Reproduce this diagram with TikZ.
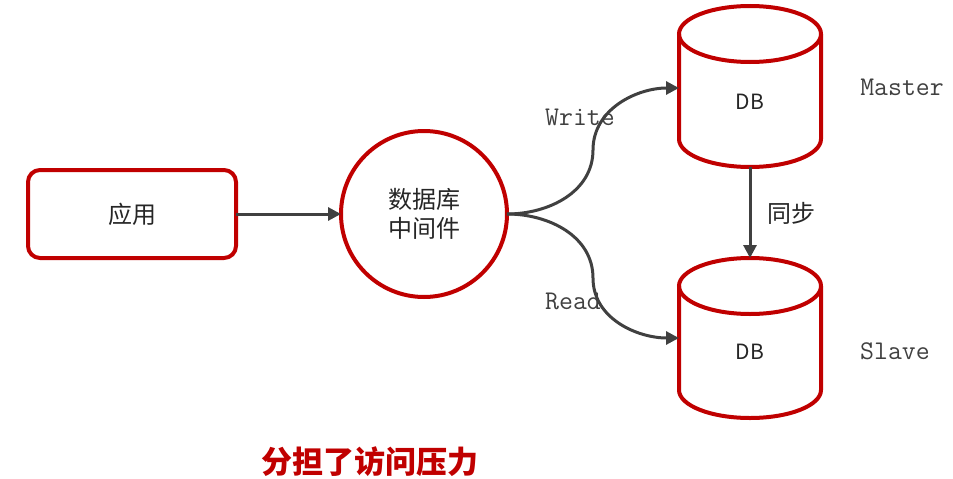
\documentclass[tikz,border=0pt]{standalone}
\usepackage{fontspec}
\setmainfont{Liberation Sans}
\newfontfamily\cjk{Noto Sans CJK SC}
\usetikzlibrary{arrows.meta}
\definecolor{dbred}{HTML}{C00000}
\definecolor{arrgray}{HTML}{404040}
\definecolor{txt}{HTML}{262626}
\begin{document}
\begin{tikzpicture}[x=1pt,y=1pt,
  redline/.style={draw=dbred,line width=4pt},
  conn/.style={draw=arrgray,line width=3pt,-{Triangle[length=13pt,width=13pt]}},
  cjktext/.style={font=\cjk\fontsize{24}{29}\selectfont,text=txt},
  dbtext/.style={font=\cjk\fontsize{21}{25}\selectfont,text=txt},
  monolabel/.style={font=\ttfamily\fontsize{27}{30}\selectfont,text=arrgray},
  dbcyl/.pic={
    \path[redline,fill=white] (-71,0) -- (-71,-#1) arc[start angle=180,end angle=360,x radius=71,y radius=28] -- (71,0);
    \path[redline] (0,0) ellipse[x radius=71,y radius=28];
  }
]
\useasboundingbox (0,0) rectangle (953,-479);
% application box
\node[redline,rounded corners=12pt,minimum width=208pt,minimum height=88pt,cjktext] (app) at (132,-214) {应用};
% middleware circle
\node[redline,circle,minimum size=166pt,inner sep=0pt,align=center,cjktext] (mw) at (424,-214) {数据库\\中间件};
% cylinders
\pic at (750,-34) {dbcyl=105};
\pic at (750,-286) {dbcyl=104};
\node[dbtext] (master) at (750,-102) {DB};
\node[dbtext] (slave) at (750,-352) {DB};
\coordinate (masterW) at (679,-88);
\coordinate (masterB) at (750,-167);
\coordinate (slaveT) at (750,-258);
\coordinate (slaveW) at (679,-338);
\coordinate (wbend) at (593,-150);
\coordinate (rbend) at (593,-278);
\coordinate (mwE) at (507,-214);
\coordinate (appE) at (236,-214);
\coordinate (mwW) at (341,-214);
% connectors
\draw[conn] (appE) -- (mwW);
\draw[conn] (mwE) to[out=0,in=-90] (wbend) to[out=90,in=180] (masterW);
\draw[conn] (mwE) to[out=0,in=90] (rbend) to[out=-90,in=180] (slaveW);
\draw[conn] (masterB) -- (slaveT);
% labels
\node[monolabel] (wlabel) at (580,-117) {Write};
\node[monolabel] (rlabel) at (573,-301) {Read};
\node[monolabel] (mlabel) at (902,-87) {Master};
\node[monolabel] (slabel) at (895,-351) {Slave};
\node[cjktext] (sync) at (791,-213) {同步};
\node[font=\cjk\bfseries\fontsize{31}{34}\selectfont,text=dbred] (title) at (370,-462) {分担了访问压力};
\end{tikzpicture}
\end{document}
